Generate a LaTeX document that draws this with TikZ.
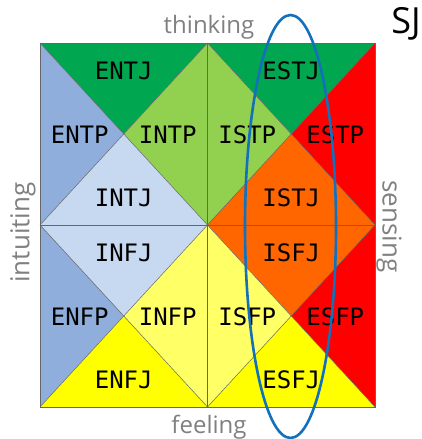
\documentclass[tikz,border=0pt]{standalone}
\usepackage{fontspec}
\setmainfont{Open Sans}
\newfontfamily\typefont{DejaVu Sans Mono}

\definecolor{darkgreen}{HTML}{00A650}
\definecolor{lightgreen}{HTML}{92D050}
\definecolor{midblue}{HTML}{8FAEDC}
\definecolor{paleblue}{HTML}{C6D9F1}
\definecolor{orangefill}{HTML}{FF6600}
\definecolor{redfill}{HTML}{FF0000}
\definecolor{yellowfill}{HTML}{FFFF00}
\definecolor{paleyellow}{HTML}{FFFF66}
\definecolor{ringblue}{HTML}{1370BD}

\tikzset{
  cell/.style={draw=black!60, line width=0.5pt},
  typelabel/.style={font=\typefont\fontsize{24}{24}\selectfont, inner sep=0pt},
  axislabel/.style={font=\fontsize{24}{24}\selectfont, text=black!50, inner sep=0pt}
}

\begin{document}
\begin{tikzpicture}[x=1pt,y=-1pt]
    \useasboundingbox (0,0) rectangle (422,439);

    % Quadrants: centre, colours (top/left/right/bottom), type labels
    \foreach \cx/\cy/\ct/\cl/\cr/\cb/\lt/\ll/\lr/\lb in {
        123.75/134/darkgreen/midblue/lightgreen/paleblue/ENTJ/ENTP/INTP/INTJ,
        291.25/134/darkgreen/lightgreen/redfill/orangefill/ESTJ/ISTP/ESTP/ISTJ,
        123.75/316/paleblue/midblue/paleyellow/yellowfill/INFJ/ENFP/INFP/ENFJ,
        291.25/316/orangefill/paleyellow/redfill/yellowfill/ISFJ/ISFP/ESFP/ESFJ} {
        \fill[\ct] ({\cx-83.75},{\cy-91}) -- ({\cx+83.75},{\cy-91}) -- (\cx,\cy) -- cycle;
        \fill[\cl] ({\cx-83.75},{\cy-91}) -- ({\cx-83.75},{\cy+91}) -- (\cx,\cy) -- cycle;
        \fill[\cr] ({\cx+83.75},{\cy-91}) -- ({\cx+83.75},{\cy+91}) -- (\cx,\cy) -- cycle;
        \fill[\cb] ({\cx-83.75},{\cy+91}) -- ({\cx+83.75},{\cy+91}) -- (\cx,\cy) -- cycle;
        \draw[cell] ({\cx-83.75},{\cy-91}) rectangle ({\cx+83.75},{\cy+91});
        \draw[cell] ({\cx-83.75},{\cy-91}) -- ({\cx+83.75},{\cy+91});
        \draw[cell] ({\cx+83.75},{\cy-91}) -- ({\cx-83.75},{\cy+91});

        \node[typelabel] (\lt) at (\cx,{\cy-63.5}) {\lt};
        \node[typelabel] (\ll) at ({\cx-44},{\cy+0.5}) {\ll};
        \node[typelabel] (\lr) at ({\cx+44},{\cy+0.5}) {\lr};
        \node[typelabel] (\lb) at (\cx,{\cy+64}) {\lb};
    }

    % Axis names
    \node[axislabel, anchor=base] (thinking) at (209,33.5) {thinking};
    \node[axislabel, anchor=base] (feeling) at (209,433) {feeling};
    \node[axislabel, font=\fontsize{26}{26}\selectfont, rotate=90] (intuiting) at (23,232.5) {intuiting};
    \node[axislabel, font=\fontsize{26}{26}\selectfont, rotate=-90] (sensing) at (389,226.5) {sensing};

    % SJ group
    \node[inner sep=0pt, font=\fontsize{36}{36}\selectfont] (sj) at (406,23.5) {SJ};
    \draw[ringblue, line width=2.6pt] (290.5,226.5) ellipse [x radius=45.5, y radius=211.5];

\end{tikzpicture}
\end{document}
